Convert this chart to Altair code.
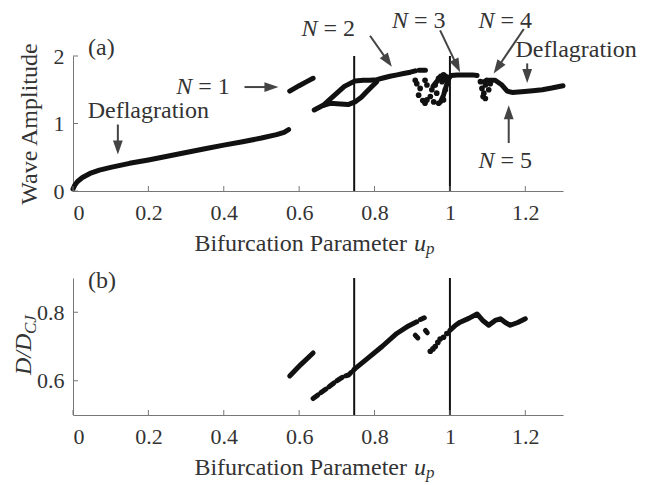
import math
import altair as alt
import pandas as pd

FONT = "'Liberation Serif', 'DejaVu Serif', serif"
DARK = "#111111"
TXT = "#333333"
ARR = "#444444"
AXC = "#777777"

W = 490
H1 = 135
H2 = 137
XMAX = 1.3

# ---------------- data: panel (a) ----------------
defl1_x = [0.0, 0.005, 0.012, 0.025, 0.045, 0.07, 0.1, 0.15, 0.2, 0.25, 0.3, 0.35, 0.4, 0.45, 0.5, 0.54, 0.56, 0.572]
defl1_y = [0.03, 0.09, 0.14, 0.2, 0.26, 0.31, 0.35, 0.41, 0.46, 0.515, 0.57, 0.625, 0.68, 0.73, 0.785, 0.835, 0.87, 0.91]
n1_x = [0.575, 0.6, 0.62, 0.637]
n1_y = [1.48, 1.56, 1.62, 1.67]
n2lo_x = [0.64, 0.66, 0.682, 0.71, 0.73, 0.748, 0.765, 0.779, 0.795, 0.806]
n2lo_y = [1.2, 1.26, 1.30, 1.29, 1.28, 1.32, 1.39, 1.47, 1.56, 1.62]
n2up_x = [0.664, 0.68, 0.70, 0.72, 0.748, 0.77, 0.788, 0.806, 0.82, 0.841, 0.86, 0.877, 0.895, 0.908]
n2up_y = [1.27, 1.35, 1.45, 1.55, 1.63, 1.64, 1.64, 1.65, 1.67, 1.70, 1.72, 1.74, 1.76, 1.78]
n2end_x = [0.918, 0.935]
n2end_y = [1.79, 1.79]
n3a_x = [0.955, 0.965, 0.975, 0.983, 0.99]
n3a_y = [1.55, 1.62, 1.70, 1.64, 1.70]
n3_x = [0.975, 0.983, 0.99, 0.996, 1.003, 1.02, 1.04, 1.06, 1.072]
n3_y = [1.32, 1.42, 1.55, 1.66, 1.71, 1.72, 1.72, 1.72, 1.71]
n4_x = [1.09, 1.103, 1.12, 1.138, 1.152, 1.165, 1.19, 1.22, 1.245, 1.27, 1.3]
n4_y = [1.62, 1.64, 1.64, 1.57, 1.48, 1.46, 1.47, 1.485, 1.50, 1.525, 1.56]
dots_a_x = [0.908, 0.912, 0.917, 0.921, 0.928, 0.934, 0.934, 0.939, 0.952, 0.948, 0.939, 0.957, 0.970, 0.983,
            0.965, 0.961, 0.970, 0.983, 0.979, 0.988,
            1.081, 1.085, 1.094, 1.090, 1.094, 1.103, 1.107, 1.098, 1.088]
dots_a_y = [1.64, 1.59, 1.42, 1.52, 1.34, 1.30, 1.64, 1.57, 1.50, 1.40, 1.35, 1.32, 1.30, 1.35,
            1.45, 1.57, 1.67, 1.72, 1.62, 1.50,
            1.62, 1.52, 1.57, 1.45, 1.37, 1.50, 1.59, 1.64, 1.40]

# ---------------- data: panel (b) ----------------
b_n1_x = [0.575, 0.605, 0.637]
b_n1_y = [0.614, 0.648, 0.681]
b_n2lo_x = [0.637, 0.66, 0.68, 0.70, 0.717, 0.731, 0.746]
b_n2lo_y = [0.548, 0.567, 0.583, 0.600, 0.612, 0.617, 0.633]
b_n2up_x = [0.746, 0.78, 0.82, 0.859, 0.89, 0.912]
b_n2up_y = [0.633, 0.664, 0.70, 0.738, 0.76, 0.772]
b_n2end_x = [0.922, 0.932]
b_n2end_y = [0.779, 0.784]
b_d1_x = [0.908, 0.915]
b_d1_y = [0.733, 0.725]
b_d2_x = [0.935, 0.94]
b_d2_y = [0.747, 0.740]
b_n3_x = [1.0, 1.015, 1.027, 1.05, 1.072, 1.088, 1.103, 1.12, 1.134, 1.147, 1.16, 1.18, 1.2]
b_n3_y = [0.747, 0.762, 0.771, 0.782, 0.795, 0.775, 0.762, 0.776, 0.781, 0.77, 0.762, 0.77, 0.781]
dots_b_x = [0.948, 0.955, 0.961, 0.968, 0.974, 0.983, 0.992]
dots_b_y = [0.686, 0.693, 0.700, 0.712, 0.722, 0.727, 0.738]

vlines = [0.746, 1.0]
xticks = [0, 0.2, 0.4, 0.6, 0.8, 1.0, 1.2]
yticks_a = [0, 1, 2]
yticks_b = [0.6, 0.8]

# annotations (panel a)
words = ["Deflagration", "Deflagration"]
words_x = [0.039, 1.174]
words_y = [1.18, 2.09]
n_labels = ["= 1", "= 2", "= 3", "= 4", "= 5"]
n_x = [0.274, 0.606, 0.846, 1.076, 1.076]
n_y = [1.54, 2.40, 2.52, 2.52, 0.44]
arrow_start = [(0.119, 0.985), (0.455, 1.54), (0.788, 2.30), (0.974, 2.38), (1.196, 2.40), (1.205, 1.89), (1.156, 0.71)]
arrow_tip = [(0.119, 0.54), (0.545, 1.54), (0.846, 1.84), (1.027, 1.76), (1.116, 1.74), (1.205, 1.60), (1.156, 1.27)]


def segs(pairs):
    rows = []
    for k, (xs, ys) in enumerate(pairs):
        for i, (a, b) in enumerate(zip(xs, ys)):
            rows.append({"seg": k, "i": i, "x": a, "y": b})
    return pd.DataFrame(rows)


def arrows_df(starts, tips, sx, sy, head=14):
    shafts, heads = [], []
    for (x0, y0), (x1, y1) in zip(starts, tips):
        dxp = (x1 - x0) * sx
        dyp = -(y1 - y0) * sy
        L = math.hypot(dxp, dyp)
        ux, uy = dxp / L, dyp / L
        ang = math.degrees(math.atan2(ux, -uy)) % 360
        cx = x1 - ux * head / 2 / sx
        cy = y1 + uy * head / 2 / sy
        shafts.append({"x": x0, "y": y0, "x2": cx, "y2": cy})
        heads.append({"x": cx, "y": cy, "ang": ang})
    return pd.DataFrame(shafts), pd.DataFrame(heads)


HEAD = "M0,-1L0.7,1L-0.7,1Z"


def panel(H, ydom, yticks, lines_df, beads_df, dots_df, ylabel_axis_title):
    xs = alt.Scale(domain=[0, XMAX], nice=False, zero=False)
    ys = alt.Scale(domain=ydom, nice=False, zero=False)
    xaxis = alt.Axis(values=xticks, format="~g", title=None, grid=False, ticks=False, tickSize=0,
                     labelPadding=11, labelFont=FONT, labelFontSize=22, labelColor=TXT,
                     domainColor=AXC, domainWidth=1)
    yaxis = alt.Axis(values=yticks, format="~g", grid=False, ticks=False, tickSize=0,
                     labelPadding=9, labelFont=FONT, labelFontSize=22, labelColor=TXT,
                     domainColor=AXC, domainWidth=1,
                     title=ylabel_axis_title if ylabel_axis_title else None,
                     titleFont=FONT, titleFontSize=24, titleFontWeight="normal", titleColor=TXT,
                     titlePadding=12)
    X = lambda f: alt.X(f, type="quantitative", scale=xs, axis=xaxis)
    Y = lambda f: alt.Y(f, type="quantitative", scale=ys, axis=yaxis)

    layers = []
    layers.append(alt.Chart(lines_df).mark_line(strokeWidth=5, color=DARK, strokeCap="round",
                                                strokeJoin="round").encode(
        x=X("x"), y=Y("y"), detail="seg:N", order="i:Q"))
    if beads_df is not None:
        layers.append(alt.Chart(beads_df).mark_line(strokeWidth=5, color=DARK, strokeCap="round",
                                                    strokeDash=[6, 4]).encode(
            x=X("x"), y=Y("y"), detail="seg:N", order="i:Q"))
    layers.append(alt.Chart(dots_df).mark_circle(size=32, color=DARK, opacity=1).encode(
        x=X("x"), y=Y("y")))
    layers.append(alt.Chart(pd.DataFrame({"x": vlines})).mark_rule(color=DARK, strokeWidth=2).encode(
        x=X("x"), y=alt.value(0), y2=alt.value(H)))
    layers.append(alt.Chart(pd.DataFrame({"x": xticks})).mark_rule(color=AXC, strokeWidth=1).encode(
        x=X("x"), y=alt.value(H), y2=alt.value(H - 5)))
    layers.append(alt.Chart(pd.DataFrame({"y": yticks})).mark_rule(color=AXC, strokeWidth=1).encode(
        y=Y("y"), x=alt.value(0), x2=alt.value(5)))
    # x axis title with italic u and subscript p
    layers.append(alt.Chart(pd.DataFrame({"t": ["Bifurcation Parameter"]})).mark_text(
        align="right", baseline="middle", font=FONT, fontSize=24, color=TXT).encode(
        text="t:N", x=alt.value(334), y=alt.value(H + 53)))
    layers.append(alt.Chart(pd.DataFrame({"t": ["u"]})).mark_text(
        align="left", baseline="middle", font=FONT, fontSize=24, fontStyle="italic", color=TXT).encode(
        text="t:N", x=alt.value(341), y=alt.value(H + 53)))
    layers.append(alt.Chart(pd.DataFrame({"t": ["p"]})).mark_text(
        align="left", baseline="middle", font=FONT, fontSize=17, fontStyle="italic", color=TXT).encode(
        text="t:N", x=alt.value(353), y=alt.value(H + 58)))
    return layers, X, Y


# ---------- panel (a) ----------
lines_a = segs([(defl1_x, defl1_y), (n1_x, n1_y), (n2lo_x, n2lo_y), (n2up_x, n2up_y),
                (n2end_x, n2end_y), (n3a_x, n3a_y), (n3_x, n3_y), (n4_x, n4_y)])
dots_a = pd.DataFrame({"x": dots_a_x, "y": dots_a_y})
layers_a, XA, YA = panel(H1, [0, 2], yticks_a, lines_a, None, dots_a, "Wave Amplitude")

sxa = W / XMAX
sya = H1 / 2.0
shafts, heads = arrows_df(arrow_start, arrow_tip, sxa, sya)
ann = [
    alt.Chart(shafts).mark_rule(color=ARR, strokeWidth=2).encode(
        x=XA("x"), y=YA("y"), x2="x2:Q", y2="y2:Q"),
    alt.Chart(heads).mark_point(shape=HEAD, filled=True, size=196, color=ARR, opacity=1,
                                strokeWidth=0).encode(
        x=XA("x"), y=YA("y"), angle=alt.Angle("ang:Q", scale=None)),
    alt.Chart(pd.DataFrame({"x": words_x, "y": words_y, "t": words})).mark_text(
        align="left", baseline="middle", font=FONT, fontSize=24, color=TXT).encode(
        x=XA("x"), y=YA("y"), text="t:N"),
    alt.Chart(pd.DataFrame({"x": n_x, "y": n_y, "t": ["N"] * len(n_x)})).mark_text(
        align="left", baseline="middle", font=FONT, fontSize=24, fontStyle="italic", color=TXT).encode(
        x=XA("x"), y=YA("y"), text="t:N"),
    alt.Chart(pd.DataFrame({"x": n_x, "y": n_y, "t": n_labels})).mark_text(
        align="left", baseline="middle", font=FONT, fontSize=24, color=TXT, dx=22).encode(
        x=XA("x"), y=YA("y"), text="t:N"),
    alt.Chart(pd.DataFrame({"x": [0.04], "y": [2.12], "t": ["(a)"]})).mark_text(
        align="left", baseline="middle", font=FONT, fontSize=24, color=TXT).encode(
        x=XA("x"), y=YA("y"), text="t:N"),
]
top = alt.layer(*(layers_a + ann)).properties(width=W, height=H1)

# ---------- panel (b) ----------
lines_b = segs([(b_n1_x, b_n1_y), (b_n2up_x, b_n2up_y), (b_n2end_x, b_n2end_y),
                (b_d1_x, b_d1_y), (b_d2_x, b_d2_y), (b_n3_x, b_n3_y)])
beads_b = segs([(b_n2lo_x, b_n2lo_y)])
dots_b = pd.DataFrame({"x": dots_b_x, "y": dots_b_y})
layers_b, XB, YB = panel(H2, [0.5, 0.9], yticks_b, lines_b, beads_b, dots_b, None)
ann_b = [
    alt.Chart(pd.DataFrame({"x": [0.04], "y": [0.891], "t": ["(b)"]})).mark_text(
        align="left", baseline="middle", font=FONT, fontSize=24, color=TXT).encode(
        x=XB("x"), y=YB("y"), text="t:N"),
    alt.Chart(pd.DataFrame({"t": ["D/D"]})).mark_text(
        align="left", baseline="middle", font=FONT, fontSize=24, fontStyle="italic", color=TXT,
        angle=270).encode(text="t:N", x=alt.value(-49), y=alt.value(97)),
    alt.Chart(pd.DataFrame({"t": ["CJ"]})).mark_text(
        align="left", baseline="middle", font=FONT, fontSize=17, fontStyle="italic", color=TXT,
        angle=270).encode(text="t:N", x=alt.value(-42), y=alt.value(56)),
]
bottom = alt.layer(*(layers_b + ann_b)).properties(width=W, height=H2)

chart = alt.vconcat(top, bottom, spacing=12).properties(
    padding={"left": 4, "top": 0, "right": 0, "bottom": 2}).configure_view(stroke=None)

chart.save("out.html", embed_options={"renderer": "svg", "actions": False})
